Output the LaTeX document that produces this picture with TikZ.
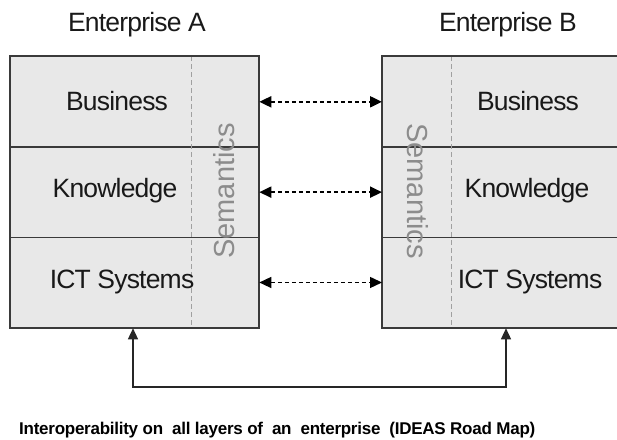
\documentclass[tikz,border=0pt]{standalone}
\usepackage{fontspec}
\setmainfont{Liberation Sans}
\newfontfamily\tightfont[LetterSpace=-3]{Liberation Sans}
\newfontfamily\captfont[LetterSpace=-1.5]{Liberation Sans}
\usetikzlibrary{arrows.meta}
\definecolor{cellfill}{HTML}{E8E8E8}
\definecolor{boxline}{HTML}{3A3A3A}
\definecolor{semgray}{HTML}{8C8C8C}
\definecolor{dashgray}{HTML}{A0A0A0}
\tikzset{
  cell/.style={draw=boxline, fill=cellfill, line width=1.3pt, minimum width=248pt, minimum height=90.33pt, anchor=north west, inner sep=0pt},
  cellB/.style={cell, minimum width=252pt},
  outer/.style={draw=boxline, line width=2.3pt},
  layertext/.style={font=\tightfont\fontsize{26.5}{30}\selectfont, text=black!90, inner sep=0pt},
  titletext/.style={font=\tightfont\fontsize{26.5}{30}\selectfont, text=black!90, inner sep=0pt},
  semtext/.style={font=\fontsize{29}{32}\selectfont, text=semgray, inner sep=0pt},
  semline/.style={draw=dashgray, line width=1pt, dash pattern=on 5pt off 3pt},
  linkarrow/.style={line width=2pt, dash pattern=on 4.5pt off 2.5pt, {Triangle[length=12pt,width=11pt]}-{Triangle[length=12pt,width=11pt]}},
  linkarrowthin/.style={linkarrow, line width=1.4pt},
  basearrow/.style={draw=black!85, line width=1.4pt, {Triangle[length=11pt,width=10pt]}-{Triangle[length=11pt,width=10pt]}},
  captext/.style={font=\captfont\fontsize{17}{20}\selectfont\bfseries, inner sep=0pt, anchor=west}
}
\begin{document}
\begin{tikzpicture}[x=1pt,y=-1pt]
\useasboundingbox (0,0) rectangle (617,439);
\clip (0,0) rectangle (617,439);
% Enterprise A
\node[cell] (aBus) at (10,56) {};
\node[cell] (aKno) at (10,146.33) {};
\node[cell] (aICT) at (10,236.67) {};
\draw[semline] (191,56) -- (191,327);
\draw[outer] (aBus.north west) rectangle (aICT.south east);
% Enterprise B
\node[cellB] (bBus) at (382,56) {};
\node[cellB] (bKno) at (382,146.33) {};
\node[cellB] (bICT) at (382,236.67) {};
\draw[semline] (451,56) -- (451,327);
\draw[outer] (bBus.north west) rectangle (bICT.south east);
% titles
\node[titletext] (tA) at (137,25) {Enterprise A};
\node[titletext] (tB) at (508,25) {Enterprise B};
% layer texts
\node[layertext] (lA1) at (117,101) {Business};
\node[layertext] (lA2) at (115,191) {Knowledge};
\node[layertext] (lA3) at (122,282) {ICT Systems};
\node[layertext] (lB1) at (528,101) {Business};
\node[layertext] (lB2) at (527,191) {Knowledge};
\node[layertext] (lB3) at (530,282) {ICT Systems};
% semantics
\node[semtext, rotate=90] (sA) at (224,191) {Semantics};
\node[semtext, rotate=-90] (sB) at (418,191) {Semantics};
% horizontal links
\draw[linkarrow] (aBus.east) -- (bBus.west);
\draw[linkarrow] (aKno.east) -- (bKno.west);
\draw[linkarrowthin] (aICT.east) -- (bICT.west);
% base link
\coordinate (c1) at (133,387);
\coordinate (c2) at (506,387);
\draw[basearrow] (aICT.south -| c1) -- (c1) -- (c2) -- (bICT.south -| c2);
% caption
\node[captext] (cap) at (19,430) {Interoperability on\ \ all layers of\ \ an\ \ enterprise\ \ (IDEAS Road Map)};
\end{tikzpicture}
\end{document}
